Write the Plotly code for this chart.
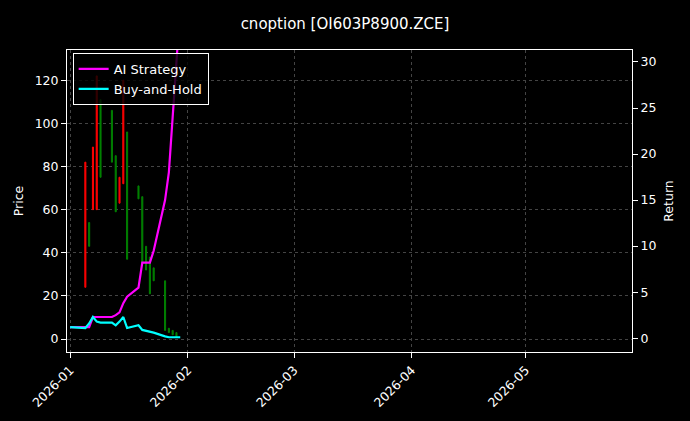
import plotly.graph_objects as go

candle_dates = ["2026-01-05", "2026-01-06", "2026-01-07", "2026-01-08", "2026-01-09", "2026-01-12",
                "2026-01-13", "2026-01-14", "2026-01-15", "2026-01-16", "2026-01-19", "2026-01-20",
                "2026-01-21", "2026-01-22", "2026-01-23", "2026-01-26", "2026-01-27", "2026-01-28",
                "2026-01-29"]
opens = [24, 54, 60, 60, 111, 106, 85, 63, 72, 96, 71, 66, 43, 38, 33, 27, 5, 4, 3]
highs = [82, 54, 89, 122, 111, 106, 85, 75, 120, 96, 71, 66, 43, 38, 33, 27, 5, 4, 3]
lows = [24, 43, 60, 60, 75, 82, 59, 63, 72, 37, 65, 35, 32, 21, 27, 4, 3, 2, 1]
closes = [82, 43, 89, 122, 75, 82, 59, 75, 120, 37, 65, 35, 32, 21, 27, 4, 3, 2, 1]

line_dates = ["2026-01-01", "2026-01-05", "2026-01-06", "2026-01-07", "2026-01-08", "2026-01-09",
              "2026-01-12", "2026-01-13", "2026-01-14", "2026-01-15", "2026-01-16", "2026-01-19",
              "2026-01-20", "2026-01-21", "2026-01-22", "2026-01-23", "2026-01-26", "2026-01-27",
              "2026-01-28", "2026-01-29", "2026-01-30"]
ai_strategy = [1.2, 1.2, 1.2, 2.3, 2.3, 2.3, 2.3, 2.5, 2.8, 3.8, 4.5, 5.5, 8.2, 8.2, 8.2, 9.5,
               15, 18, 24, 30, 36]
buy_hold = [1.2, 1.1, 1.6, 2.3, 1.8, 1.7, 1.7, 1.4, 1.8, 2.3, 1.1, 1.4, 0.9, 0.8, 0.7, 0.6,
            0.2, 0.1, 0.1, 0.1, 0.1]

fig = go.Figure()
fig.add_trace(go.Candlestick(
    x=candle_dates, open=opens, high=highs, low=lows, close=closes,
    increasing=dict(line=dict(color="#ff0000", width=1), fillcolor="#ff0000"),
    decreasing=dict(line=dict(color="#008000", width=1), fillcolor="#008000"),
    showlegend=False, whiskerwidth=0,
))
fig.add_trace(go.Scatter(x=line_dates, y=ai_strategy, name="AI Strategy", yaxis="y2",
                         mode="lines", line=dict(color="#ff00ff", width=2.2)))
fig.add_trace(go.Scatter(x=line_dates, y=buy_hold, name="Buy-and-Hold", yaxis="y2",
                         mode="lines", line=dict(color="#00ffff", width=2.2)))

grid = dict(showgrid=True, gridcolor="#444444", griddash="dot", gridwidth=0.6,
            showline=True, linecolor="white", mirror=True, ticks="outside",
            tickcolor="white", zeroline=False, tickfont=dict(size=12.5), automargin=False)
fig.update_layout(
    width=690, height=421,
    paper_bgcolor="black", plot_bgcolor="black",
    font=dict(family="DejaVu Sans", color="white", size=12),
    title=dict(text="cnoption [OI603P8900.ZCE]", x=0.5, y=0.955, xanchor="center", font=dict(size=15)),
    margin=dict(l=67, r=58, t=50, b=69),
    boxgap=0.6,
    xaxis=dict(range=["2025-12-31 04:00", "2026-05-29"], type="date", tickformat="%Y-%m",
               tickvals=["2026-01-01", "2026-02-01", "2026-03-01", "2026-04-01", "2026-05-01"],
               tickangle=-45, rangeslider=dict(visible=False), **grid),
    yaxis=dict(title=dict(text="Price", standoff=8, font=dict(size=12.5)), range=[-6, 134],
               tickvals=[0, 20, 40, 60, 80, 100, 120], **grid),
    yaxis2=dict(title=dict(text="Return", standoff=8, font=dict(size=12.5)), overlaying="y", side="right",
                range=[-1.5, 31.3], tickvals=[0, 5, 10, 15, 20, 25, 30], showgrid=False, ticks="outside",
                tickcolor="white", zeroline=False, tickfont=dict(size=12.5), automargin=False),
    legend=dict(x=0.01, y=0.99, xanchor="left", yanchor="top", bgcolor="rgba(0,0,0,0.8)",
                bordercolor="white", borderwidth=1, font=dict(size=13)),
)
fig.write_html("out.html", config={"displayModeBar": False},
               post_script="document.body.style.margin='0';document.body.style.background='black';")
